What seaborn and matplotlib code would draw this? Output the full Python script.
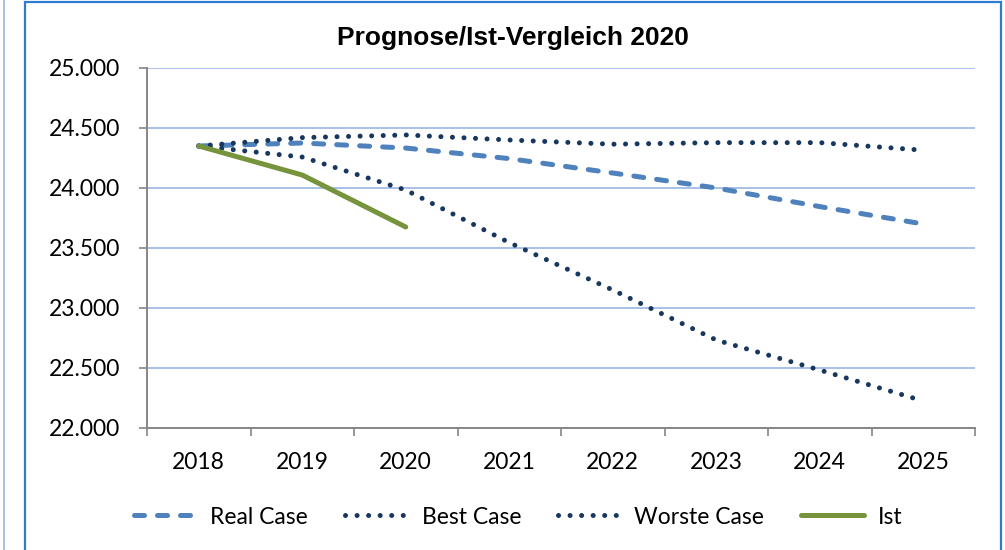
import pandas as pd
import matplotlib.pyplot as plt
import seaborn as sns
from matplotlib.ticker import FuncFormatter, FixedLocator
from matplotlib.patches import Rectangle
from matplotlib.lines import Line2D

years = ["2018", "2019", "2020", "2021", "2022", "2023", "2024", "2025"]
real_case = [24350, 24375, 24333, 24245, 24125, 24000, 23845, 23700]
best_case = [24350, 24420, 24442, 24400, 24365, 24378, 24378, 24315]
worste_case = [24350, 24258, 23983, 23545, 23150, 22733, 22483, 22225]
ist_years = ["2018", "2019", "2020"]
ist = [24350, 24108, 23675]

sns.set_style("white")
plt.rcParams["font.family"] = ["Lato", "DejaVu Sans"]
plt.rcParams["text.color"] = "black"
plt.rcParams["xtick.labelcolor"] = "black"
plt.rcParams["ytick.labelcolor"] = "black"

idx = {y: i for i, y in enumerate(years)}
df = pd.concat([
    pd.DataFrame({"x": [idx[y] for y in years], "val": real_case, "series": "Real Case"}),
    pd.DataFrame({"x": [idx[y] for y in years], "val": best_case, "series": "Best Case"}),
    pd.DataFrame({"x": [idx[y] for y in years], "val": worste_case, "series": "Worste Case"}),
    pd.DataFrame({"x": [idx[y] for y in ist_years], "val": ist, "series": "Ist"}),
])

styles = {
    "Real Case": dict(color="#4F81BD", lw=3.6, dashes=(2.0, 2.6)),
    "Best Case": dict(color="#17375E", lw=3.6, dashes=(0.01, 2.3)),
    "Worste Case": dict(color="#17375E", lw=3.6, dashes=(0.01, 2.3)),
    "Ist": dict(color="#77933C", lw=3.6),
}

fig = plt.figure(figsize=(10.05, 5.5), dpi=100)
ax = fig.add_axes([147 / 1005, 1 - 428 / 550, (975 - 147) / 1005, (428 - 68) / 550])

for name in ["Real Case", "Best Case", "Worste Case", "Ist"]:
    st = styles[name]
    d = df[df.series == name]
    line = sns.lineplot(data=d, x="x", y="val", ax=ax, label=name, color=st["color"], linewidth=st["lw"]).lines[-1]
    if "dashes" in st:
        line.set_dashes(st["dashes"])
        line.set_dash_capstyle("round")
    else:
        line.set_solid_capstyle("round")

ax.set_xlim(-0.5, len(years) - 0.5)
ax.set_ylim(22000, 25000)
ax.set_yticks(range(22000, 25001, 500))
ax.yaxis.set_major_formatter(FuncFormatter(lambda v, p: f"{int(v):,}".replace(",", ".")))
ax.set_xticks(range(len(years)))
ax.set_xticklabels(years)
ax.xaxis.set_minor_locator(FixedLocator([i - 0.5 for i in range(len(years) + 1)]))
ax.tick_params(axis="x", which="major", length=0, pad=17, labelsize=16.5, labelcolor="black")
ax.tick_params(axis="x", which="minor", length=6, width=1.2, color="#868686", direction="out")
ax.tick_params(axis="y", length=6, width=1.2, color="#868686", direction="out", pad=13, labelsize=16.5,
               labelcolor="black")
ax.xaxis.set_ticks_position("bottom")
ax.yaxis.set_ticks_position("left")
ax.set_xlabel("")
ax.set_ylabel("")
ax.grid(axis="y", color="#A9C1E8", lw=1.4)
ax.set_axisbelow(True)
for s in ["top", "right"]:
    ax.spines[s].set_visible(False)
for s in ["left", "bottom"]:
    ax.spines[s].set_color("#868686")
    ax.spines[s].set_linewidth(1.4)

fig.text(513 / 1005, 1 - 38 / 550, "Prognose/Ist-Vergleich 2020", ha="center", va="center",
         fontsize=19, fontweight="bold", color="black", family=["Liberation Sans", "DejaVu Sans"])

leg = ax.legend(loc="center", bbox_to_anchor=(518 / 1005, 1 - 517 / 550), bbox_transform=fig.transFigure,
                ncol=4, frameon=False, fontsize=16.5, handlelength=2.75, columnspacing=1.6, handletextpad=0.6)
for t in leg.get_texts():
    t.set_color("black")

fig.add_artist(Rectangle((25 / 1005, -0.01), 976 / 1005, 1 - 1.5 / 550 + 0.01, transform=fig.transFigure,
                         fill=False, edgecolor="#2E7BCF", lw=1.6))
fig.add_artist(Line2D([3.5 / 1005, 3.5 / 1005], [0, 1], transform=fig.transFigure, color="#9DB5DD", lw=1.2))

fig.savefig("out.png", dpi=100)
